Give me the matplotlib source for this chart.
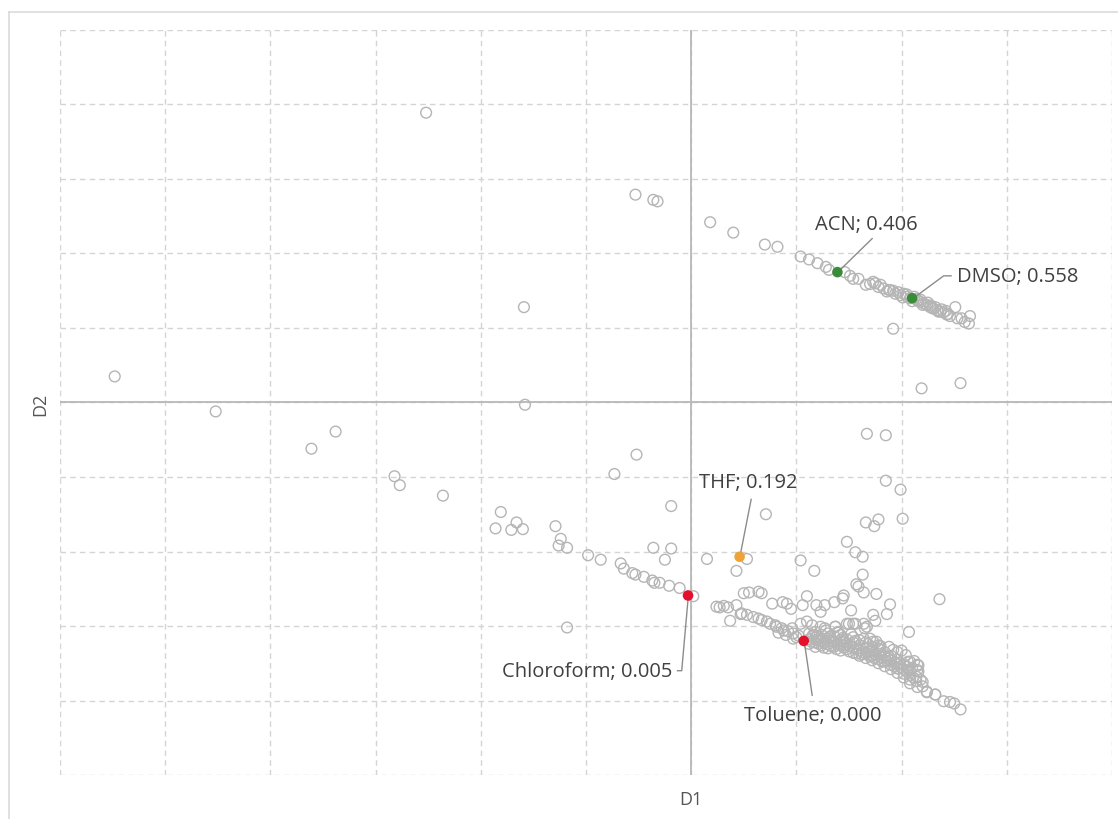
import matplotlib
matplotlib.use("Agg")
import matplotlib.pyplot as plt
from matplotlib.lines import Line2D

plt.rcParams['font.family'] = ['Open Sans', 'DejaVu Sans']

# Solvent scores on the first two discriminant dimensions (grey = other solvents)
other_d1 = [
    -2.52, -0.53, -0.36, -0.32, 0.18, 0.40, 0.70, 0.82, -1.59, -5.48, -4.52, -3.38, -3.61,
    -1.58, -2.82, -2.77, -2.36, 1.67, 1.85, 2.19, 2.56, 1.92, 2.36, -1.18,
    # middle-left branch
    -0.52, -0.73, -1.81, -1.86, -1.71, -1.66, -1.60, -1.29, -1.24, -1.26, -1.18, -0.19,
    -0.36, -0.19, -0.25, -0.98, -0.86, -0.67, -0.64, -0.56, -0.53, -0.45, -0.37, -0.35,
    -0.30, -0.21, -0.11, 0.02,
    # scattered above the lower branch
    0.71, 0.15, 0.53, 0.43, 1.04, 1.17, 1.85, 1.99, 1.66, 1.78, 1.74, 2.01, 1.48, 1.56,
    1.63, 1.63, 1.57, 1.59, 1.64, 1.76, 1.89, 0.50, 0.55, 0.64, 0.67, 1.10, 1.44, 1.36,
    1.45, 0.24, 0.27, 0.31, 0.35, 0.43, 0.47, 0.37, 0.77, 0.87, 0.91, 0.95, 1.06, 1.19,
    1.23, 1.27, 1.52, 1.73, 1.75, 1.86, 2.07, 2.06, 2.15, 2.16, 2.24, 2.32, 2.40, 2.46,
    2.50, 2.56, 1.50, 1.56, 1.64, 1.65, 1.67, 1.37, 1.70, 1.73, 1.78, 1.80, 1.96, 2.08,
    2.16, 2.15, 1.88, 1.97, 2.08, 2.15, 2.24, 2.32, 0.48,
    # lower branch
    0.59, 0.67, 0.75, 0.81, 0.88, 0.97, 1.04, 1.10, 1.15, 1.23, 1.27, 1.37, 1.39, 1.48,
    1.54, 0.97, 1.16, 1.19, 1.26, 1.35, 1.45, 1.54, 0.53, 0.64, 0.72, 0.80, 0.86, 0.92,
    1.00, 0.96,
    1.12, 1.12, 1.12, 1.18, 1.18, 1.18, 1.18, 1.24, 1.24, 1.24, 1.30, 1.30, 1.30, 1.30,
    1.36, 1.36, 1.36, 1.42, 1.42, 1.42, 1.42, 1.48, 1.48, 1.48, 1.54, 1.54, 1.54, 1.54,
    1.60, 1.60, 1.60, 1.60, 1.66, 1.66, 1.66, 1.66, 1.72, 1.72, 1.72, 1.72, 1.78, 1.78,
    1.78, 1.78, 1.84, 1.84, 1.84, 1.84, 1.90, 1.90, 1.90, 1.90, 1.96, 1.96, 1.96, 1.96,
    2.02, 2.02, 2.02, 2.02, 2.08, 2.08, 2.08, 2.14, 2.14, 2.20, 2.20,
    1.15, 1.21, 1.27, 1.33, 1.39, 1.45, 1.51, 1.57, 1.63, 1.69, 1.75, 1.81, 1.87, 1.93,
    1.99, 2.05, 1.21, 1.33, 1.45, 1.57, 1.69, 1.81, 1.93, 2.05, 2.11, 0.83, 0.90, 1.02,
    1.14, 1.20, 1.26, 1.32, 1.38, 1.44, 1.50, 1.56, 1.62, 1.68, 1.74, 1.80, 1.86, 1.92,
    1.98, 2.04, 2.10, 1.28, 1.40, 1.52, 1.64, 1.76, 1.88, 2.00, 2.12, 2.18,
    # upper-right branch
    1.04, 1.12, 1.20, 1.28, 1.31, 1.46, 1.51, 1.54, 1.59, 1.70, 1.75, 1.78, 1.83, 1.86,
    1.89, 1.94, 1.99, 2.02, 2.05, 2.15, 2.18, 2.21, 2.24, 2.27, 2.30, 2.34, 2.37, 2.40,
    2.43, 2.46, 2.51, 2.53, 2.57, 2.60, 2.64, 2.65, 2.05, 2.08, 2.12, 2.10, 2.14, 2.18,
    2.20, 2.25, 2.28, 2.32, 2.35, 2.38, 2.42, 1.97, 1.92, 1.80, 1.73, 2.01, 2.16, 2.29,
    2.44, 1.88, 1.66,
]
other_d2 = [
    3.89, 2.79, 2.72, 2.70, 2.42, 2.28, 2.12, 2.09, 1.28, 0.35, -0.12, -0.39, -0.62,
    -0.03, -0.99, -1.11, -1.25, -0.42, -0.44, 0.19, 0.26, 0.99, -2.64, -3.02,
    -0.70, -0.96, -1.47, -1.69, -1.71, -1.61, -1.70, -1.66, -1.83, -1.92, -1.95, -1.39,
    -1.95, -1.96, -2.11, -2.05, -2.11, -2.16, -2.23, -2.29, -2.31, -2.34, -2.39, -2.42,
    -2.42, -2.46, -2.49, -2.60,
    -1.50, -2.10, -2.10, -2.26, -2.12, -2.26, -1.05, -1.17, -1.61, -1.57, -1.66, -1.56,
    -1.87, -2.01, -2.07, -2.31, -2.44, -2.47, -2.55, -2.57, -2.71, -2.56, -2.55, -2.54,
    -2.56, -2.60, -2.63, -2.68, -2.59, -2.74, -2.75, -2.73, -2.75, -2.72, -2.84, -2.93,
    -2.70, -2.68, -2.70, -2.77, -2.72, -2.72, -2.81, -2.72, -2.79, -2.85, -2.93, -2.84,
    -3.08, -3.48, -3.52, -3.61, -3.89, -3.92, -4.01, -4.02, -4.04, -4.12, -2.97, -2.97,
    -2.97, -3.03, -3.01, -3.01, -3.17, -3.21, -3.26, -3.32, -3.35, -3.48, -3.53, -3.59,
    -3.41, -3.57, -3.77, -3.82, -3.88, -3.92, -2.83,
    -2.88, -2.92, -2.97, -3.01, -3.06, -3.10, -2.97, -2.94, -2.99, -3.01, -3.03, -3.01,
    -3.08, -2.97, -2.97, -3.17, -3.12, -3.19, -3.23, -3.21, -3.26, -3.28, -2.85, -2.90,
    -2.94, -2.99, -3.03, -3.07, -3.15, -3.03,
    -3.10, -3.18, -3.24, -3.08, -3.15, -3.22, -3.28, -3.12, -3.20, -3.26, -3.10, -3.17,
    -3.24, -3.30, -3.14, -3.22, -3.28, -3.12, -3.19, -3.25, -3.33, -3.18, -3.24, -3.31,
    -3.15, -3.22, -3.29, -3.36, -3.19, -3.26, -3.33, -3.40, -3.22, -3.30, -3.37, -3.43,
    -3.28, -3.34, -3.40, -3.46, -3.30, -3.37, -3.44, -3.50, -3.35, -3.41, -3.48, -3.54,
    -3.40, -3.46, -3.52, -3.58, -3.45, -3.51, -3.57, -3.63, -3.52, -3.58, -3.64, -3.69,
    -3.60, -3.66, -3.72, -3.68, -3.74, -3.75, -3.81,
    -3.14, -3.18, -3.21, -3.20, -3.25, -3.29, -3.27, -3.31, -3.35, -3.34, -3.38, -3.42,
    -3.44, -3.49, -3.55, -3.61, -3.24, -3.27, -3.22, -3.37, -3.40, -3.47, -3.54, -3.55,
    -3.69, -3.09, -3.12, -3.13,
    -3.21, -3.13, -3.29, -3.14, -3.31, -3.16, -3.34, -3.20, -3.38, -3.24, -3.43, -3.27,
    -3.47, -3.32, -3.50, -3.39, -3.56, -3.06, -3.09, -3.11, -3.17, -3.21, -3.28, -3.33,
    -3.47, -3.72,
    1.96, 1.92, 1.87, 1.82, 1.78, 1.75, 1.70, 1.66, 1.66, 1.59, 1.60, 1.55, 1.53, 1.49,
    1.51, 1.46, 1.44, 1.46, 1.42, 1.37, 1.35, 1.33, 1.31, 1.28, 1.26, 1.24, 1.22, 1.21,
    1.18, 1.16, 1.28, 1.13, 1.13, 1.08, 1.06, 1.16, 1.45, 1.40, 1.42, 1.36, 1.39, 1.38,
    1.31, 1.34, 1.30, 1.28, 1.22, 1.25, 1.23, 1.48, 1.50, 1.58, 1.62, 1.41, 1.36, 1.27,
    1.19, 1.51, 1.58,
]

# Highlighted solvents with their scores
hl_names = ["ACN", "DMSO", "THF", "Chloroform", "Toluene"]
hl_values = [0.406, 0.558, 0.192, 0.005, 0.000]
hl_d1 = [1.39, 2.10, 0.46, -0.03, 1.07]
hl_d2 = [1.75, 1.40, -2.07, -2.59, -3.20]
hl_colors = ["#3b8c3a", "#3b8c3a", "#eea23a", "#e3112c", "#e3112c"]

fig = plt.figure(figsize=(11.18, 8.2), dpi=100)
ax = fig.add_axes([60 / 1118, 1 - 776 / 820, 1052 / 1118, 745 / 820])

ax.set_xlim(-6, 4)
ax.set_ylim(-5, 5)
ax.set_xticks(range(-6, 5))
ax.set_yticks(range(-5, 6))
ax.tick_params(length=0, labelbottom=False, labelleft=False)
for s in ax.spines.values():
    s.set_visible(False)
ax.grid(True, color="#d4d4d4", linestyle=(0, (4, 3)), linewidth=1.0)
ax.set_axisbelow(True)
ax.axhline(0, color="#b8b8b8", linewidth=1.3, zorder=1)
ax.axvline(0, color="#b8b8b8", linewidth=1.3, zorder=1)

ax.scatter(other_d1, other_d2, s=60, facecolors="none", edgecolors="#b5b5b5",
           linewidths=1.0, zorder=2)
ax.scatter(hl_d1, hl_d2, s=58, c=hl_colors, edgecolors="none", zorder=4)

label_kw = dict(fontsize=14.5, color="#404040", zorder=5)
lead_kw = dict(color="#8c8c8c", linewidth=1.0, zorder=3)
labels = [f"{n}; {v:.3f}" for n, v in zip(hl_names, hl_values)]

# ACN
ax.plot([hl_d1[0] + 0.04, 1.72], [hl_d2[0] + 0.05, 2.20], **lead_kw)
ax.text(1.66, 2.40, labels[0], ha="center", va="center", **label_kw)
# DMSO
ax.plot([hl_d1[1] + 0.05, 2.40, 2.47], [hl_d2[1] + 0.04, 1.70, 1.70], **lead_kw)
ax.text(2.53, 1.70, labels[1], ha="left", va="center", **label_kw)
# THF
ax.plot([hl_d1[2] + 0.01, 0.57], [hl_d2[2] + 0.05, -1.30], **lead_kw)
ax.text(0.54, -1.07, labels[2], ha="center", va="center", **label_kw)
# Chloroform
ax.plot([hl_d1[3], -0.09, -0.13], [hl_d2[3] - 0.05, -3.60, -3.60], **lead_kw)
ax.text(-0.18, -3.60, labels[3], ha="right", va="center", **label_kw)
# Toluene
ax.plot([hl_d1[4] + 0.01, 1.15], [hl_d2[4] - 0.06, -3.93], **lead_kw)
ax.text(1.16, -4.19, labels[4], ha="center", va="center", **label_kw)

fig.text(691 / 1118, 1 - 800 / 820, "D1", ha="center", va="center",
         fontsize=13, color="#555555")
fig.text(40 / 1118, 1 - 404 / 820, "D2", ha="center", va="center", rotation=90,
         fontsize=13, color="#555555")

# thin frame around the chart area
fig.add_artist(Line2D([9 / 1118, 9 / 1118], [0, 1 - 13 / 820], color="#dadada", linewidth=1.2))
fig.add_artist(Line2D([9 / 1118, 1], [1 - 13 / 820, 1 - 13 / 820], color="#dadada", linewidth=1.2))

fig.savefig("out.png", dpi=100, facecolor="white")
